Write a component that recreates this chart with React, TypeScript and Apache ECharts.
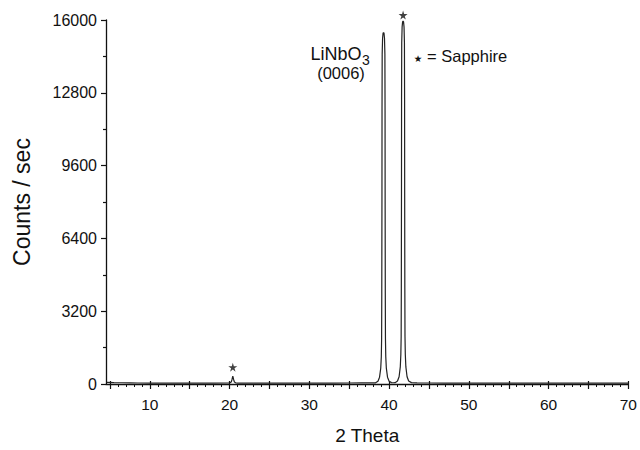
import React, { useEffect, useRef } from "react";
import * as echarts from "echarts";

// 2θ (deg) / counts per second
const baselineLeft: number[][] = [
  [4.6, 70], [5.5, 60], [6.5, 55], [7.5, 50], [8.5, 45], [10, 42], [12, 40],
  [14, 40], [16, 38], [18, 40], [20.0, 45],
];
const sapphire0003: number[][] = [
  [20.2, 90], [20.3, 200], [20.4, 340], [20.5, 200], [20.6, 90], [20.8, 45],
];
const baselineMid: number[][] = [
  [21, 40], [23, 38], [25, 38], [27, 38], [29, 40], [31, 40], [33, 42],
  [35, 45], [36.5, 48], [37.5, 50],
];
const linbo3Peak: number[][] = [
  [38.3, 50], [38.6, 120], [38.8, 300], [38.95, 700], [39.02, 1200],
  [39.06, 2000], [39.08, 4000], [39.1, 8000], [39.11, 12000], [39.13, 14500],
  [39.18, 15200], [39.24, 15420], [39.3, 15450], [39.36, 15420], [39.42, 15200],
  [39.47, 14500], [39.49, 12000], [39.5, 8000], [39.52, 4000], [39.54, 2000],
  [39.58, 1200], [39.65, 700], [39.8, 300], [40.0, 120], [40.3, 60], [40.53, 55],
];
const sapphire0006: number[][] = [
  [40.75, 60], [41.05, 130], [41.25, 320], [41.4, 750], [41.47, 1300],
  [41.51, 2100], [41.53, 4200], [41.55, 8400], [41.56, 12500], [41.58, 15000],
  [41.63, 15700], [41.69, 15920], [41.75, 15950], [41.81, 15920], [41.87, 15700],
  [41.92, 15000], [41.94, 12500], [41.95, 8400], [41.97, 4200], [41.99, 2100],
  [42.03, 1300], [42.1, 750], [42.25, 320], [42.45, 130], [42.8, 60],
];
const baselineRight: number[][] = [
  [43.5, 48], [45, 45], [47, 42], [50, 40], [53, 38], [56, 38], [59, 36],
  [62, 36], [65, 35], [68, 35], [70, 35],
];
const sapphireStars: number[][] = [[20.4, 740], [41.75, 16220]];

const xLabelValues = [10, 20, 30, 40, 50, 60, 70];
const xMajorTicks = [5, 10, 15, 20, 25, 30, 35, 40, 45, 50, 55, 60, 65, 70];
const xMinorTicks = [
  5, 6, 7, 8, 9, 10, 11, 12, 13, 14, 15, 16, 17, 18, 19, 20, 21, 22, 23, 24, 25,
  26, 27, 28, 29, 30, 31, 32, 33, 34, 35, 36, 37, 38, 39, 40, 41, 42, 43, 44, 45,
  46, 47, 48, 49, 50, 51, 52, 53, 54, 55, 56, 57, 58, 59, 60, 61, 62, 63, 64, 65,
  66, 67, 68, 69, 70,
];

const FONT = "'Liberation Sans', Arial, Helvetica, sans-serif";
const INK = "#111111";

export default function App() {
  const ref = useRef<HTMLDivElement>(null);
  useEffect(() => {
    if (!ref.current) return;
    const chart = echarts.init(ref.current, null, { renderer: "svg" });
    const data = [
      ...baselineLeft,
      ...sapphire0003,
      ...baselineMid,
      ...linbo3Peak,
      ...sapphire0006,
      ...baselineRight,
    ];
    const baseX = {
      type: "value",
      min: 4.5,
      max: 70,
      position: "bottom",
      splitLine: { show: false },
    };
    chart.setOption({
      animation: false,
      backgroundColor: "#ffffff",
      grid: { left: 106, right: 8, top: 20, bottom: 60, containLabel: false },
      xAxis: [
        {
          ...baseX,
          axisLine: { show: true, lineStyle: { color: INK, width: 1.3 } },
          axisTick: {
            show: true,
            customValues: xMajorTicks,
            length: 5,
            lineStyle: { color: INK, width: 1.2 },
          },
          axisLabel: {
            customValues: xLabelValues,
            margin: 12,
            fontSize: 15.5,
            color: INK,
            fontFamily: FONT,
            formatter: (v: number) => String(v),
          },
          name: "2 Theta",
          nameLocation: "middle",
          nameGap: 42,
          nameTextStyle: { fontSize: 19, color: INK, fontFamily: FONT },
        },
        {
          ...baseX,
          axisLine: { show: false },
          axisTick: {
            show: true,
            customValues: xMinorTicks,
            length: 3,
            lineStyle: { color: INK, width: 1 },
          },
          axisLabel: { show: false },
        },
        {
          ...baseX,
          axisLine: { show: false },
          axisTick: {
            show: true,
            inside: true,
            customValues: xMajorTicks,
            length: 3,
            lineStyle: { color: INK, width: 1.2 },
          },
          axisLabel: { show: false },
        },
      ],
      yAxis: {
        type: "value",
        min: 0,
        max: 16000,
        interval: 3200,
        splitLine: { show: false },
        axisLine: { show: true, lineStyle: { color: INK, width: 1.3 } },
        axisTick: { show: true, length: 5, lineStyle: { color: INK, width: 1.2 } },
        minorTick: { show: true, splitNumber: 2, length: 3, lineStyle: { color: INK, width: 1.2 } },
        axisLabel: {
          margin: 9,
          fontSize: 16,
          color: INK,
          fontFamily: FONT,
          formatter: (v: number) => String(v),
        },
        name: "Counts / sec",
        nameLocation: "middle",
        nameGap: 73,
        nameTextStyle: { fontSize: 23, color: INK, fontFamily: FONT },
      },
      series: [
        {
          type: "line",
          xAxisIndex: 0,
          data,
          showSymbol: false,
          symbol: "none",
          lineStyle: { color: "#222222", width: 1.2 },
          clip: false,
        },
        {
          type: "scatter",
          xAxisIndex: 0,
          data: sapphireStars,
          symbol:
            "path://M50,0 L61,35 L98,35 L68,57 L79,91 L50,70 L21,91 L32,57 L2,35 L39,35 Z",
          symbolSize: 9,
          itemStyle: { color: "#111" },
          clip: false,
        },
      ],
      graphic: [
        {
          type: "text",
          x: 361.5,
          y: 54,
          style: { text: "LiNbO", font: `18px ${FONT}`, fill: INK, align: "right", verticalAlign: "middle" },
        },
        {
          type: "text",
          x: 362,
          y: 60,
          style: { text: "3", font: `14px ${FONT}`, fill: INK, align: "left", verticalAlign: "middle" },
        },
        {
          type: "text",
          x: 341,
          y: 73,
          style: { text: "(0006)", font: `16.5px ${FONT}`, fill: INK, align: "center", verticalAlign: "middle" },
        },
        {
          type: "text",
          x: 418,
          y: 58.5,
          style: { text: "★", font: `9.5px 'DejaVu Sans', sans-serif`, fill: "#111", align: "center", verticalAlign: "middle" },
        },
        {
          type: "text",
          x: 427,
          y: 55.5,
          style: { text: "= Sapphire", font: `16.5px ${FONT}`, fill: INK, align: "left", verticalAlign: "middle" },
        },
      ],
    });
    return () => chart.dispose();
  }, []);
  return (
    <div
      ref={ref}
      style={{ position: "fixed", left: 0, top: 0, width: 640, height: 450, background: "#fff" }}
    />
  );
}
